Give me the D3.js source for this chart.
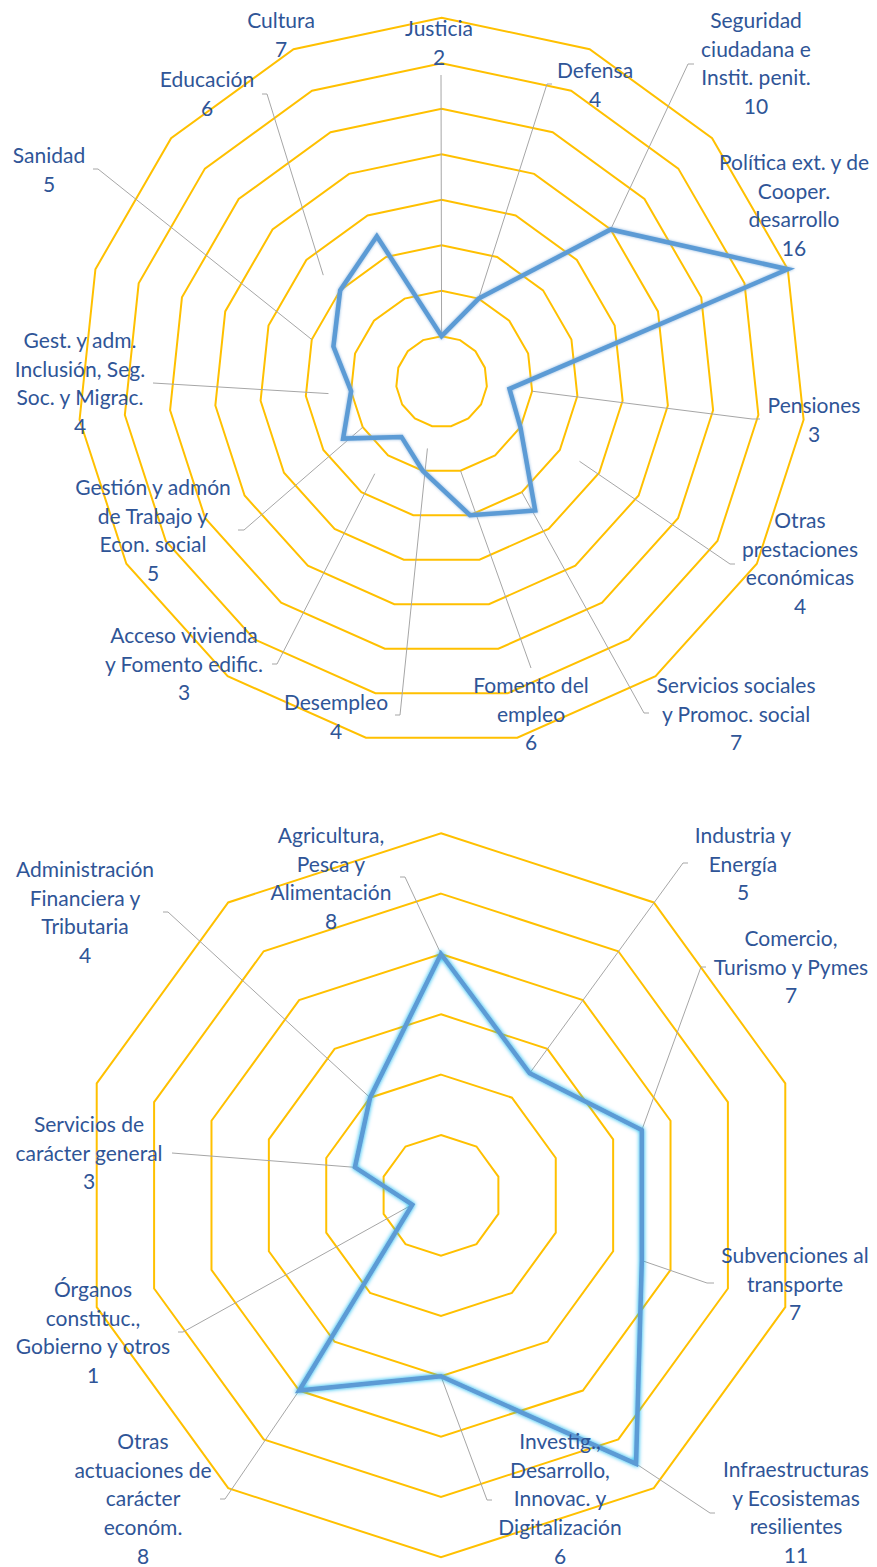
<!DOCTYPE html>
<html>
<head>
<meta charset="utf-8">
<script src="https://cdn.jsdelivr.net/npm/d3@7"></script>
<style>
  body { margin: 0; background: #fff; }
  svg { display: block; }
  .lbl { font-family: Lato, "Open Sans", sans-serif; font-size: 21px; fill: #2F5597; }
</style>
</head>
<body>
<svg id="chart" width="877" height="1567"></svg>
<script>
// top radar
const topCategories = [
    "Justicia",
    "Defensa",
    "Seguridad\nciudadana e\nInstit. penit.",
    "Política ext. y de\nCooper.\ndesarrollo",
    "Pensiones",
    "Otras\nprestaciones\neconómicas",
    "Servicios sociales\ny Promoc. social",
    "Fomento del\nempleo",
    "Desempleo",
    "Acceso vivienda\ny Fomento edific.",
    "Gestión y admón\nde Trabajo y\nEcon. social",
    "Gest. y adm.\nInclusión, Seg.\nSoc. y Migrac.",
    "Sanidad",
    "Educación",
    "Cultura"
];
const topValues = [2, 4, 10, 16, 3, 4, 7, 6, 4, 3, 5, 4, 5, 6, 7];
const topTicks = [2, 4, 6, 8, 10, 12, 14, 16];

// bottom radar
const bottomCategories = [
    "Agricultura,\nPesca y\nAlimentación",
    "Industria y\nEnergía",
    "Comercio,\nTurismo y Pymes",
    "Subvenciones al\ntransporte",
    "Infraestructuras\ny Ecosistemas\nresilientes",
    "Investig.,\nDesarrollo,\nInnovac. y\nDigitalización",
    "Otras\nactuaciones de\ncarácter\neconóm.",
    "Órganos\nconstituc.,\nGobierno y otros",
    "Servicios de\ncarácter general",
    "Administración\nFinanciera y\nTributaria"
];
const bottomValues = [8, 5, 7, 7, 11, 6, 8, 1, 3, 4];
const bottomTicks = [2, 4, 6, 8, 10, 12];

// where the data labels were dragged to: [centre x, first baseline, leader x, leader y, leader tick]
const topLabelPos = [
    [439, 36, 441, 75, 0],
    [595, 78, 552, 84, -5],
    [756, 28, 694, 64, -6],
    [794, 170, null, null, 0],
    [814, 413, 760, 419, -8],
    [800, 528, 735, 564, -5],
    [736, 693, 649, 713, -5],
    [531, 693, 531, 668, 0],
    [336, 710, 395, 715, 5],
    [184, 643, 272, 664, 5],
    [153, 495, 238, 530, 6],
    [80, 348, 153, 383, 0],
    [49, 163, 93, 169, 5],
    [207, 87, 262, 94, 5],
    [281, 28, 322, 33, 5]
];
const bottomLabelPos = [
    [331, 843, 400, 877, 5],
    [743, 843, 688, 863, -5],
    [791, 946, 706, 967, -5],
    [795, 1263, 714, 1283, -7],
    [796, 1477, 715, 1513, -5],
    [560, 1449, 492, 1500, -5],
    [143, 1449, 220, 1499, 5],
    [93, 1297, 178, 1332, 5],
    [89, 1132, 172, 1153, 0],
    [85, 877, 163, 912, 5]
];

const lineHeight = 28.7;

const svg = d3.select("#chart");
const defs = svg.append("defs");

function makeGlow(id, color, dev, opacity) {
    let f = defs.append("filter")
        .attr("id", id)
        .attr("filterUnits", "userSpaceOnUse")
        .attr("x", -900).attr("y", -1600).attr("width", 1800).attr("height", 3200);
    f.append("feGaussianBlur").attr("in", "SourceAlpha").attr("stdDeviation", dev).attr("result", "blur");
    f.append("feFlood").attr("flood-color", color).attr("flood-opacity", opacity).attr("result", "col");
    f.append("feComposite").attr("in", "col").attr("in2", "blur").attr("operator", "in").attr("result", "glow");
    let m = f.append("feMerge");
    m.append("feMergeNode").attr("in", "glow");
    m.append("feMergeNode").attr("in", "SourceGraphic");
}
makeGlow("glowTop", "#7FAEDC", 1.8, 0.9);
makeGlow("glowBottom", "#00B4F0", 2.2, 1);

function drawRadar(categories, values, ticks, cx, cy, radius, labelPos, filterId) {
    let n = categories.length;
    let r = d3.scaleLinear().domain([0, d3.max(ticks)]).range([0, radius]);
    let angle = i => i * 2 * Math.PI / n;
    let pointAt = (v, i) => [cx + r(v) * Math.sin(angle(i)), cy - r(v) * Math.cos(angle(i))];

    let g = svg.append("g");
    let grid = g.append("g").attr("transform", `translate(${cx},${cy})`);

    ticks.forEach(t => {
        let ring = d3.lineRadial()
            .angle((d, i) => angle(i))
            .radius(() => r(t))
            .curve(d3.curveLinearClosed);
        grid.append("path")
            .attr("d", ring(categories))
            .attr("fill", "none")
            .attr("stroke", "#FFC000")
            .attr("stroke-width", 2);
    });

    // leader lines
    g.append("g").selectAll("path")
        .data(values)
        .join("path")
        .filter((d, i) => labelPos[i][2] !== null)
        .attr("d", (d, i) => {
            let p = labelPos[i];
            let pt = pointAt(d, i);
            return `M ${p[2]} ${p[3]} h ${p[4]} L ${pt[0]} ${pt[1]}`;
        })
        .attr("fill", "none")
        .attr("stroke", "#A6A6A6")
        .attr("stroke-width", 1);

    let series = d3.lineRadial()
        .angle((d, i) => angle(i))
        .radius(d => r(d))
        .curve(d3.curveLinearClosed);

    g.append("path")
        .attr("transform", `translate(${cx},${cy})`)
        .attr("d", series(values))
        .attr("fill", "none")
        .attr("stroke", "#5B9BD5")
        .attr("stroke-width", 4.5)
        .attr("stroke-linejoin", "miter")
        .attr("filter", `url(#${filterId})`);

    // data labels: category name + value
    let labels = g.append("g").selectAll("text")
        .data(categories)
        .join("text")
        .attr("class", "lbl")
        .attr("text-anchor", "middle")
        .attr("x", (d, i) => labelPos[i][0])
        .attr("y", (d, i) => labelPos[i][1]);

    labels.each(function (d, i) {
        let lines = d.split("\n").concat([String(values[i])]);
        let t = d3.select(this);
        lines.forEach((line, k) => {
            t.append("tspan")
                .attr("x", labelPos[i][0])
                .attr("dy", k === 0 ? 0 : lineHeight)
                .text(line);
        });
    });
}

drawRadar(topCategories, topValues, topTicks, 441.6, 381.7, 364, topLabelPos, "glowTop");
drawRadar(bottomCategories, bottomValues, bottomTicks, 441, 1195.3, 362, bottomLabelPos, "glowBottom");
</script>
</body>
</html>
